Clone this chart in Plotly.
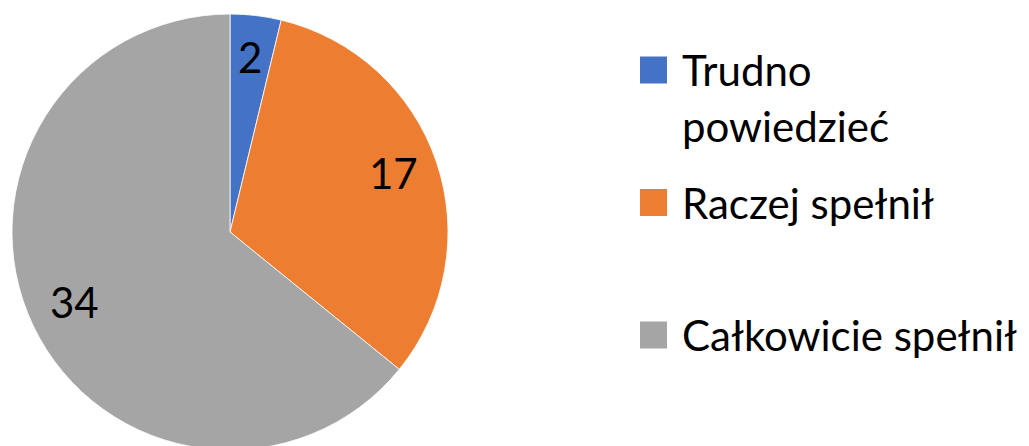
import math
import plotly.graph_objects as go

labels = ["Trudno powiedzieć", "Raczej spełnił", "Całkowicie spełnił"]
values = [2, 17, 34]
colors = ["#4472C4", "#ED7D31", "#A5A5A5"]
legend_lines = [["Trudno", "powiedzieć"], ["Raczej spełnił"], ["Całkowicie spełnił"]]

W, H = 1029, 446
OFF = 8  # page body margin
cx, cy, R = 230 - OFF, 232 - OFF, 218
FONT = "Lato"
FS = 42

fig = go.Figure(go.Pie(
    labels=labels, values=values, sort=False, direction="clockwise", rotation=0,
    marker=dict(colors=colors, line=dict(color="white", width=0.8)),
    textinfo="none", hoverinfo="label+value", showlegend=False,
    domain=dict(x=[(cx - R) / W, (cx + R) / W], y=[(H - cy - R) / H, (H - cy + R) / H]),
))

annotations = []
shapes = []
total = sum(values)
cum = 0
rf = 0.79
for v in values:
    mid = (cum + v / 2) / total * 2 * math.pi
    cum += v
    px = cx + rf * R * math.sin(mid)
    py = cy - rf * R * math.cos(mid) - 4
    annotations.append(dict(x=px / W, y=1 - py / H, xref="paper", yref="paper",
                            text=str(v), showarrow=False, xanchor="center", yanchor="middle",
                            font=dict(family=FONT, size=FS, color="black")))

# manual legend with large square markers
sq = 27
leg_x = 640 - OFF
text_x = 680 - OFF
row0 = 70 - OFF
step = 132.5
line_h = 56
for i, (lines, col) in enumerate(zip(legend_lines, colors)):
    yc = row0 + i * step
    shapes.append(dict(type="rect", xref="paper", yref="paper",
                       x0=leg_x / W, x1=(leg_x + sq) / W,
                       y0=1 - (yc + sq / 2) / H, y1=1 - (yc - sq / 2) / H,
                       fillcolor=col, line=dict(width=0)))
    for j, ln in enumerate(lines):
        annotations.append(dict(x=text_x / W, y=1 - (yc + j * line_h) / H, xref="paper", yref="paper",
                                text=ln, showarrow=False, xanchor="left", yanchor="middle",
                                font=dict(family=FONT, size=FS, color="black")))

fig.update_layout(width=W, height=H, margin=dict(l=0, r=0, t=0, b=0),
                  paper_bgcolor="white", plot_bgcolor="white",
                  annotations=annotations, shapes=shapes)
fig.write_html("out.html")
